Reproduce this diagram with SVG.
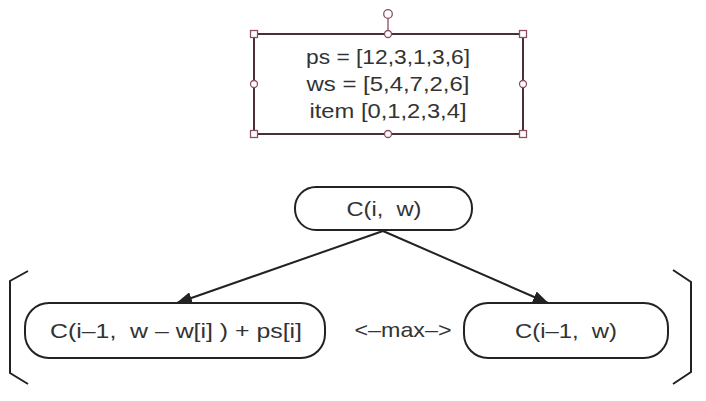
<svg xmlns="http://www.w3.org/2000/svg" width="706" height="401" viewBox="0 0 706 401">
<style>
text{font-family:"Liberation Sans","Noto Sans",sans-serif;fill:#333;text-anchor:middle;white-space:pre}
.t{font-size:21px}
.node{fill:#fff;stroke:#222;stroke-width:2}
.sel{fill:none;stroke:#4a3036;stroke-width:2}
.h{fill:#fff;stroke:#8e4f5f;stroke-width:1.3}
.edge{stroke:#222;stroke-width:2;fill:none}
</style>
<defs>
<marker id="ah2" viewBox="0 0 16 12" refX="15" refY="6" markerWidth="16" markerHeight="12" markerUnits="userSpaceOnUse" orient="auto">
<path d="M0,0 L16,6 L0,12 z" fill="#222"/>
</marker>
</defs>
<rect width="706" height="401" fill="#fff"/>
<g id="info">
<rect class="sel" x="254" y="34" width="269" height="100"/>
<line x1="388" y1="17.5" x2="388" y2="30.5" stroke="#8e4f5f" stroke-width="1.3"/>
<circle class="h" cx="388" cy="14" r="4.3"/>
<rect class="h" x="250.5" y="30.5" width="7" height="7"/>
<rect class="h" x="519.5" y="30.5" width="7" height="7"/>
<rect class="h" x="250.5" y="130.5" width="7" height="7"/>
<rect class="h" x="519.5" y="130.5" width="7" height="7"/>
<circle class="h" cx="388" cy="34" r="3.5"/>
<circle class="h" cx="388" cy="134" r="3.5"/>
<circle class="h" cx="254" cy="84" r="3.5"/>
<circle class="h" cx="523" cy="84" r="3.5"/>
<text class="t" x="388" y="64" textLength="164" lengthAdjust="spacingAndGlyphs">ps = [12,3,1,3,6]</text>
<text class="t" x="388" y="91" textLength="163" lengthAdjust="spacingAndGlyphs">ws = [5,4,7,2,6]</text>
<text class="t" x="388" y="118" textLength="157" lengthAdjust="spacingAndGlyphs">item [0,1,2,3,4]</text>
</g>
<g id="connectors">
<line class="edge" x1="383" y1="231" x2="177" y2="303" marker-end="url(#ah2)"/>
<line class="edge" x1="383" y1="231" x2="548" y2="303" marker-end="url(#ah2)"/>
</g>
<g id="root">
<rect class="node" x="295" y="187" width="177" height="43" rx="21"/>
<text class="t" x="384" y="216" xml:space="preserve" textLength="75" lengthAdjust="spacingAndGlyphs">C(i,  w)</text>
</g>
<g id="take">
<rect class="node" x="25" y="303" width="300" height="55" rx="24"/>
<text class="t" x="176" y="338" xml:space="preserve" textLength="252" lengthAdjust="spacingAndGlyphs">C(i–1,  w – w[i] ) + ps[i]</text>
</g>
<g id="skip">
<rect class="node" x="464" y="303" width="204" height="55" rx="24"/>
<text class="t" x="566" y="338" xml:space="preserve" textLength="102" lengthAdjust="spacingAndGlyphs">C(i–1,  w)</text>
</g>
<g id="max">
<text class="t" x="403" y="337" textLength="97" lengthAdjust="spacingAndGlyphs">&lt;–max–&gt;</text>
</g>
<g id="brackets">
<polyline class="edge" points="28,271 10,281 10,373 28,384"/>
<polyline class="edge" points="673,270 691,282 691,372 673,384"/>
</g>
</svg>
